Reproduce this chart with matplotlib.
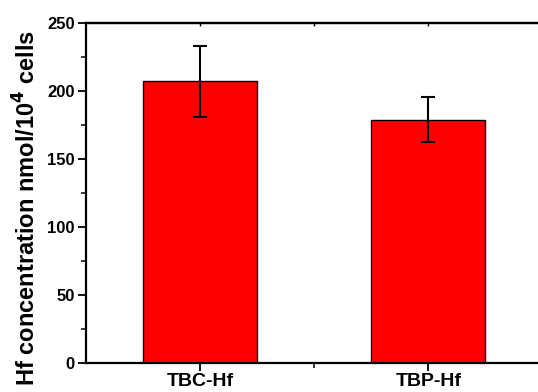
import matplotlib
matplotlib.use("Agg")
import matplotlib.pyplot as plt
from matplotlib.ticker import MultipleLocator, FixedLocator

categories = ["TBC-Hf", "TBP-Hf"]
values = [207, 179]
errors = [26, 16.7]

plt.rcParams['font.family'] = ['Liberation Sans', 'DejaVu Sans']
plt.rcParams['font.weight'] = 'bold'

fig = plt.figure(figsize=(5.38, 3.92), dpi=100)
ax = fig.add_axes([86/538, 1-363/392, (542.5-86)/538, (363-23)/392])

x = [1, 2]
ax.bar(x, values, width=0.5, color='#ff0000', edgecolor='black', linewidth=1.0, zorder=2)
ax.errorbar(x, values, yerr=errors, fmt='none', ecolor='black', elinewidth=1.5,
            capsize=5, capthick=1.5, zorder=3)

ax.set_xlim(0.5, 2.5)
ax.set_ylim(0, 250)
ax.set_xticks(x)
ax.set_xticklabels(categories, fontsize=14, fontweight='bold')
ax.xaxis.set_minor_locator(FixedLocator([1.5]))
ax.yaxis.set_major_locator(MultipleLocator(50))
ax.yaxis.set_minor_locator(MultipleLocator(25))
for lbl in ax.get_yticklabels():
    lbl.set_fontsize(12)
    lbl.set_fontweight('bold')
ax.tick_params(axis='both', which='major', direction='out', length=6, width=1.3, pad=2)
ax.tick_params(axis='both', which='minor', direction='out', length=3.5, width=1.1)
ax.tick_params(axis='x', which='major', pad=1)
for s in ax.spines.values():
    s.set_linewidth(1.6)

sec = ax.secondary_xaxis('top')
sec.set_xticks([1, 1.5, 2])
sec.set_xticklabels([])
sec.tick_params(direction='in', length=2, width=1.0)
sec.spines['top'].set_linewidth(1.6)

ax.set_ylabel(r"Hf concentration nmol/10$^\mathbf{4}$ cells", fontsize=17, fontweight='bold')
ax.yaxis.set_label_coords(-0.099, 0.456)

fig.savefig("out.png", dpi=100)
